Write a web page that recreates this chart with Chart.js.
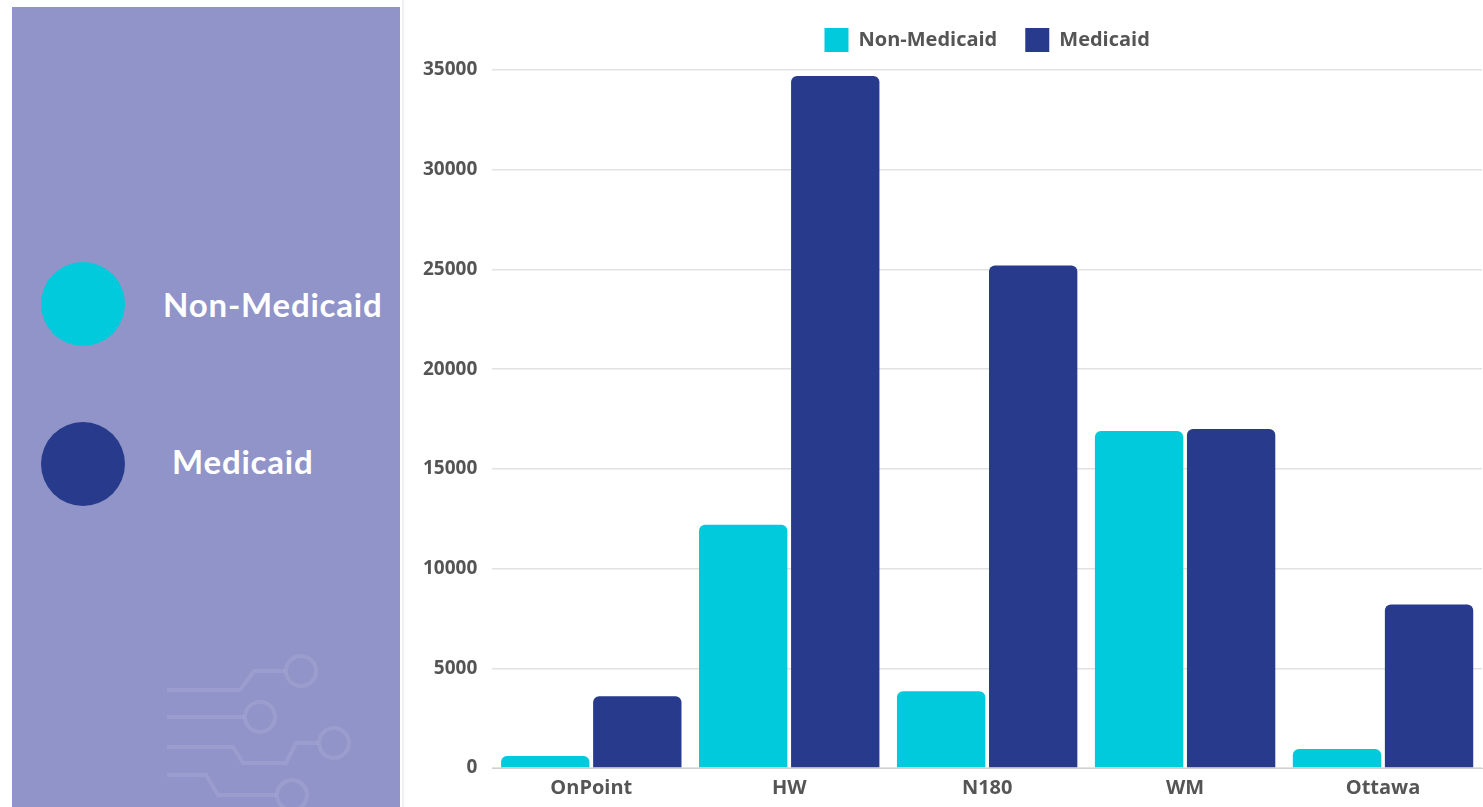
<!DOCTYPE html>
<html>
<head>
<meta charset="utf-8">
<script src="https://cdn.jsdelivr.net/npm/chart.js@4"></script>
<style>
  html, body { margin: 0; padding: 0; background: #fff; width: 1483px; height: 807px; overflow: hidden; }
  #side { position: absolute; left: 12px; top: 7px; width: 388px; height: 800px; background: #9194c8; }
  #side svg { position: absolute; left: 0; top: 0; }
  .lbl { position: absolute; color: #fff; font-family: Lato, sans-serif; font-weight: 700; font-size: 33px; letter-spacing: 0.8px; line-height: 1; }
  #wrap { position: absolute; left: 402px; top: 0; width: 1081px; height: 807px; border-left: 2px solid #f0f0f4; }
</style>
</head>
<body>
<div id="side">
  <svg width="388" height="800" viewBox="12 7 388 800">
    <circle cx="83" cy="304" r="42" fill="#00cadb"/>
    <circle cx="83" cy="464" r="42" fill="#283a8c"/>
    <g fill="none" stroke="rgba(255,255,255,0.09)" stroke-width="4">
      <polyline points="167,690 240,690 254,671 285,671"/>
      <circle cx="301" cy="671" r="15"/>
      <polyline points="167,717 244,717"/>
      <circle cx="260" cy="717" r="15"/>
      <polyline points="167,747 233,747 243,763 286,763 296,743 318,743"/>
      <circle cx="334" cy="743" r="15"/>
      <polyline points="167,775 206,775 218,795 276,795"/>
      <circle cx="292" cy="795" r="15"/>
    </g>
  </svg>
  <div class="lbl" style="left:151px; top:281px;">Non-Medicaid</div>
  <div class="lbl" style="left:160px; top:438px;">Medicaid</div>
</div>
<div id="wrap"><canvas id="chart"></canvas></div>
<script>
// Datos
const categorias = ["OnPoint", "HW", "N180", "WM", "Ottawa"];
const nonMedicaid = [600, 12200, 3850, 16900, 950];
const medicaid = [3600, 34700, 25200, 17000, 8200];
const yTicks = [0, 5000, 10000, 15000, 20000, 25000, 30000, 35000];

// Espacio extra bajo la leyenda
const legendMargin = {
    id: 'legendMargin',
    beforeInit(chart) {
        const fit = chart.legend.fit;
        chart.legend.fit = function () {
            fit.bind(chart.legend)();
            this.height += 8;
        };
    },
};

const ctx = document.getElementById("chart").getContext("2d");
new Chart(ctx, {
    type: 'bar',
    data: {
        labels: categorias,
        datasets: [
            {
                label: "Non-Medicaid",
                data: nonMedicaid,
                backgroundColor: "#00cadb",
                borderRadius: 6,
                borderSkipped: 'start',
                categoryPercentage: 0.93,
                barPercentage: 0.96,
            },
            {
                label: "Medicaid",
                data: medicaid,
                backgroundColor: "#283a8c",
                borderRadius: 6,
                borderSkipped: 'start',
                categoryPercentage: 0.93,
                barPercentage: 0.96,
            },
        ],
    },
    plugins: [legendMargin],
    options: {
        responsive: true,
        maintainAspectRatio: false,
        animation: false,
        layout: { padding: { top: 0, right: 3, bottom: 7, left: 4 } },
        plugins: {
            legend: {
                position: 'top',
                fullSize: false,
                labels: {
                    boxWidth: 24,
                    boxHeight: 24,
                    padding: 28,
                    color: "#555",
                    font: { family: "'Open Sans'", size: 20, weight: 'bold' },
                },
            },
            tooltip: { enabled: false },
        },
        scales: {
            x: {
                grid: { display: false },
                border: { color: "#d0d0d0" },
                ticks: { color: "#555", font: { family: "'Open Sans'", size: 20, weight: 'bold' }, padding: 0 },
            },
            y: {
                min: 0,
                max: 35000,
                afterBuildTicks: axis => { axis.ticks = yTicks.map(v => ({ value: v })); },
                grid: { color: "#e2e2e2", lineWidth: 1.5, drawTicks: false },
                border: { display: false },
                ticks: {
                    color: "#555",
                    font: { family: "'Open Sans'", size: 19, weight: 'bold' },
                    padding: 15,
                    callback: v => String(v),
                },
            },
        },
    },
});
</script>
</body>
</html>
